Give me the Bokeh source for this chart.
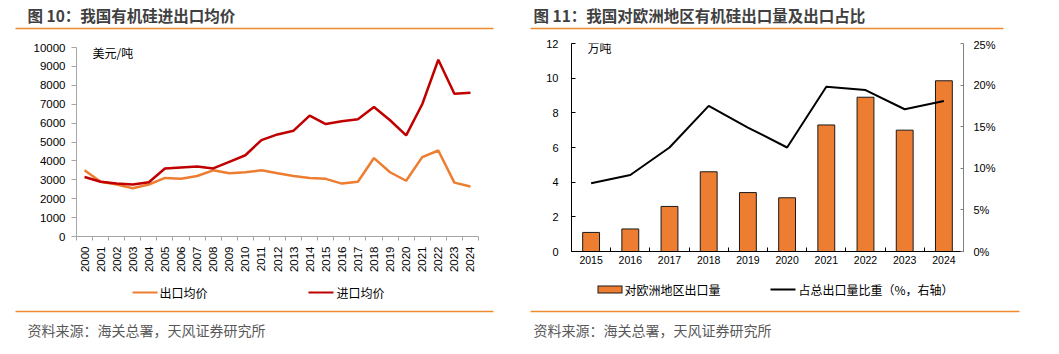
import math
from bokeh.plotting import figure
from bokeh.layouts import row, column
from bokeh.models import (Range1d, LinearAxis, FixedTicker, Label, BoxAnnotation,
                          PrintfTickFormatter, ColumnDataSource)
from bokeh.embed import file_html
from bokeh.resources import INLINE

# ---------------- data ----------------
years_price = [str(y) for y in range(2000, 2025)]
export_price = [3500, 2900, 2750, 2550, 2750, 3100, 3050, 3200, 3500, 3350, 3400, 3500, 3350,
                3200, 3100, 3050, 2800, 2900, 4150, 3400, 2950, 4200, 4550, 2850, 2650]
import_price = [3150, 2900, 2800, 2750, 2870, 3600, 3650, 3700, 3600, 3950, 4300, 5100, 5400,
                5600, 6400, 5950, 6100, 6200, 6850, 6150, 5350, 7000, 9350, 7550, 7600]
price_ticks = [0, 1000, 2000, 3000, 4000, 5000, 6000, 7000, 8000, 9000, 10000]

years_eu = [str(y) for y in range(2015, 2025)]
eu_volume = [1.1, 1.3, 2.6, 4.6, 3.4, 3.1, 7.3, 8.9, 7.0, 9.85]      # 万吨
eu_share = [8.2, 9.2, 12.5, 17.5, 14.9, 12.5, 19.8, 19.4, 17.1, 18.1]  # %
vol_ticks = [0, 2, 4, 6, 8, 10, 12]
share_ticks = [0, 5, 10, 15, 20, 25]

title_left = "图 10：我国有机硅进出口均价"
title_right = "图 11：我国对欧洲地区有机硅出口量及出口占比"
source_text = "资料来源：海关总署，天风证券研究所"
legend_left = ["出口均价", "进口均价"]
legend_right = ["对欧洲地区出口量", "占总出口量比重（%，右轴）"]

H = 354
TOP_H = 38      # title strip height
CHART_H = 238   # chart strip height
FOOT_H = H - TOP_H - CHART_H
CJK = "Noto Sans CJK SC"
LAT = "Liberation Sans"
ORANGE = "#ED7D31"
RED = "#C00000"
RULE = "#F08A2C"


def strip(page_x0, page_y0, w, h):
    """Blank figure whose frame covers it entirely; data units = page pixels (y downward)."""
    s = figure(width=w, height=h, output_backend="svg", toolbar_location=None,
               x_range=Range1d(page_x0, page_x0 + w), y_range=Range1d(page_y0 + h, page_y0),
               min_border=0, x_axis_type=None, y_axis_type=None, frame_align=False)
    s.outline_line_color = None
    s.xgrid.visible = False
    s.ygrid.visible = False
    return s


def label(p, x, y, text, size, color="#000000", bold=False, font=CJK):
    p.add_layout(Label(x=x, y=y, text=text, text_font=font, text_font_size=f"{size}px",
                       text_color=color, text_font_style="bold" if bold else "normal",
                       text_align="left", text_baseline="middle"))


def box(p, x0, x1, y0, y1, color):
    p.add_layout(BoxAnnotation(left=x0, right=x1, top=y0, bottom=y1,
                               fill_color=color, fill_alpha=1, line_alpha=0, level="overlay"))


# ---------------- left chart ----------------
n1 = len(years_price)
xs1 = [i + 0.5 for i in range(n1)]
src1 = ColumnDataSource(dict(x=xs1, exp=export_price, imp=import_price))

W1 = 530
p1 = figure(width=W1, height=CHART_H, output_backend="svg", toolbar_location=None,
            x_range=Range1d(0, n1), y_range=Range1d(0, 10000),
            min_border_left=76, min_border_right=52, min_border_top=47 - TOP_H,
            min_border_bottom=TOP_H + CHART_H - 236,
            x_axis_type=None, y_axis_type=None, frame_align=False)
p1.outline_line_color = None
p1.xgrid.visible = False
p1.ygrid.visible = False

p1.line("x", "exp", source=src1, line_color=ORANGE, line_width=2.5)
p1.line("x", "imp", source=src1, line_color=RED, line_width=2.5)

ya1 = LinearAxis(ticker=FixedTicker(ticks=price_ticks, minor_ticks=[]))
ya1.axis_line_color = "#A6A6A6"
ya1.major_tick_line_color = "#A6A6A6"
ya1.major_tick_out = 5
ya1.major_tick_in = 0
ya1.major_label_standoff = 6
ya1.major_label_text_font = LAT
ya1.major_label_text_font_size = "11.5px"
ya1.major_label_text_color = "#000000"
p1.add_layout(ya1, "left")

xa1 = LinearAxis(ticker=FixedTicker(ticks=xs1, minor_ticks=list(range(n1 + 1))))
xa1.major_label_overrides = {x: y for x, y in zip(xs1, years_price)}
xa1.axis_line_color = "#A6A6A6"
xa1.major_tick_out = 0
xa1.major_tick_in = 0
xa1.minor_tick_line_color = "#A6A6A6"
xa1.minor_tick_out = 4
xa1.minor_tick_in = 0
xa1.major_label_orientation = math.pi / 2
xa1.major_label_standoff = 6
xa1.major_label_text_font = LAT
xa1.major_label_text_font_size = "11.5px"
xa1.major_label_text_color = "#000000"
p1.add_layout(xa1, "below")

p1.add_layout(Label(x=92 - 76, y=236 - 52, x_units="screen", y_units="screen", text="美元/吨",
                    text_font=CJK, text_font_size="12px", text_color="#000000",
                    text_baseline="middle"))

t1 = strip(0, 0, W1, TOP_H)
label(t1, 27, 14, title_left, 15.5, "#404040", bold=True)
box(t1, 15, 493, 27.3, 28.7, RULE)

f1 = strip(0, TOP_H + CHART_H, W1, FOOT_H)
box(f1, 132, 157, 291, 293, ORANGE)
label(f1, 159, 292, legend_left[0], 12, "#000000")
box(f1, 308, 333, 291, 293, RED)
label(f1, 336, 292, legend_left[1], 12, "#000000")
box(f1, 15, 493, 310.3, 311.7, RULE)
label(f1, 27, 329, source_text, 14, "#595959")

# ---------------- right chart ----------------
n2 = len(years_eu)
xs2 = [i + 0.5 for i in range(n2)]
src2 = ColumnDataSource(dict(x=xs2, vol=eu_volume, share=eu_share))

W2 = 529
X2 = 530
p2 = figure(width=W2, height=CHART_H, output_backend="svg", toolbar_location=None,
            x_range=Range1d(0, n2), y_range=Range1d(0, 12),
            min_border_left=41, min_border_right=96, min_border_top=43 - TOP_H,
            min_border_bottom=TOP_H + CHART_H - 251,
            x_axis_type=None, y_axis_type=None, frame_align=False)
p2.extra_y_ranges = {"pct": Range1d(0, 25)}
p2.outline_line_color = None
p2.xgrid.visible = False
p2.ygrid.visible = False

p2.vbar(x="x", top="vol", source=src2, width=0.43, fill_color=ORANGE,
        line_color="#1a1a1a", line_width=1)
p2.line("x", "share", source=src2, y_range_name="pct", line_color="#000000", line_width=2)

ya2 = LinearAxis(ticker=FixedTicker(ticks=vol_ticks, minor_ticks=[]))
ya2.axis_line_color = "#000000"
ya2.major_tick_line_color = "#000000"
ya2.major_tick_out = 0
ya2.major_tick_in = 4
ya2.major_label_standoff = 13
ya2.major_label_text_font = LAT
ya2.major_label_text_font_size = "11px"
ya2.major_label_text_color = "#000000"
p2.add_layout(ya2, "left")

yr2 = LinearAxis(y_range_name="pct", ticker=FixedTicker(ticks=share_ticks, minor_ticks=[]),
                 formatter=PrintfTickFormatter(format="%d%%"))
yr2.axis_line_color = "#808080"
yr2.major_tick_line_color = "#808080"
yr2.major_tick_out = 0
yr2.major_tick_in = 3
yr2.major_label_standoff = 10
yr2.major_label_text_font = LAT
yr2.major_label_text_font_size = "11px"
yr2.major_label_text_color = "#000000"
p2.add_layout(yr2, "right")

xa2 = LinearAxis(ticker=FixedTicker(ticks=xs2, minor_ticks=list(range(n2 + 1))))
xa2.major_label_overrides = {x: y for x, y in zip(xs2, years_eu)}
xa2.axis_line_color = "#000000"
xa2.major_tick_out = 0
xa2.major_tick_in = 0
xa2.minor_tick_line_color = "#000000"
xa2.minor_tick_out = 0
xa2.minor_tick_in = 4
xa2.major_label_standoff = 4
xa2.major_label_text_font = LAT
xa2.major_label_text_font_size = "10.5px"
xa2.major_label_text_color = "#000000"
p2.add_layout(xa2, "below")

p2.add_layout(Label(x=587 - X2 - 41, y=251 - 47, x_units="screen", y_units="screen", text="万吨",
                    text_font=CJK, text_font_size="12px", text_color="#000000",
                    text_baseline="middle"))

t2 = strip(X2, 0, W2, TOP_H)
label(t2, 533, 14, title_right, 15.5, "#404040", bold=True)
box(t2, 523, 1003, 27.3, 28.7, RULE)

f2 = strip(X2, TOP_H + CHART_H, W2, FOOT_H)
box(f2, 597, 622, 285, 293, "#1a1a1a")
box(f2, 598, 621, 286, 292, ORANGE)
label(f2, 624, 289, legend_right[0], 12, "#000000")
box(f2, 770, 795, 288, 290, "#000000")
label(f2, 798, 289, legend_right[1], 12, "#000000")
box(f2, 523, 1019, 310.3, 311.7, RULE)
label(f2, 533, 329, source_text, 14, "#595959")

layout = row(column(t1, p1, f1, spacing=0), column(t2, p2, f2, spacing=0), spacing=0)
open("out.html", "w").write(file_html(layout, INLINE))
